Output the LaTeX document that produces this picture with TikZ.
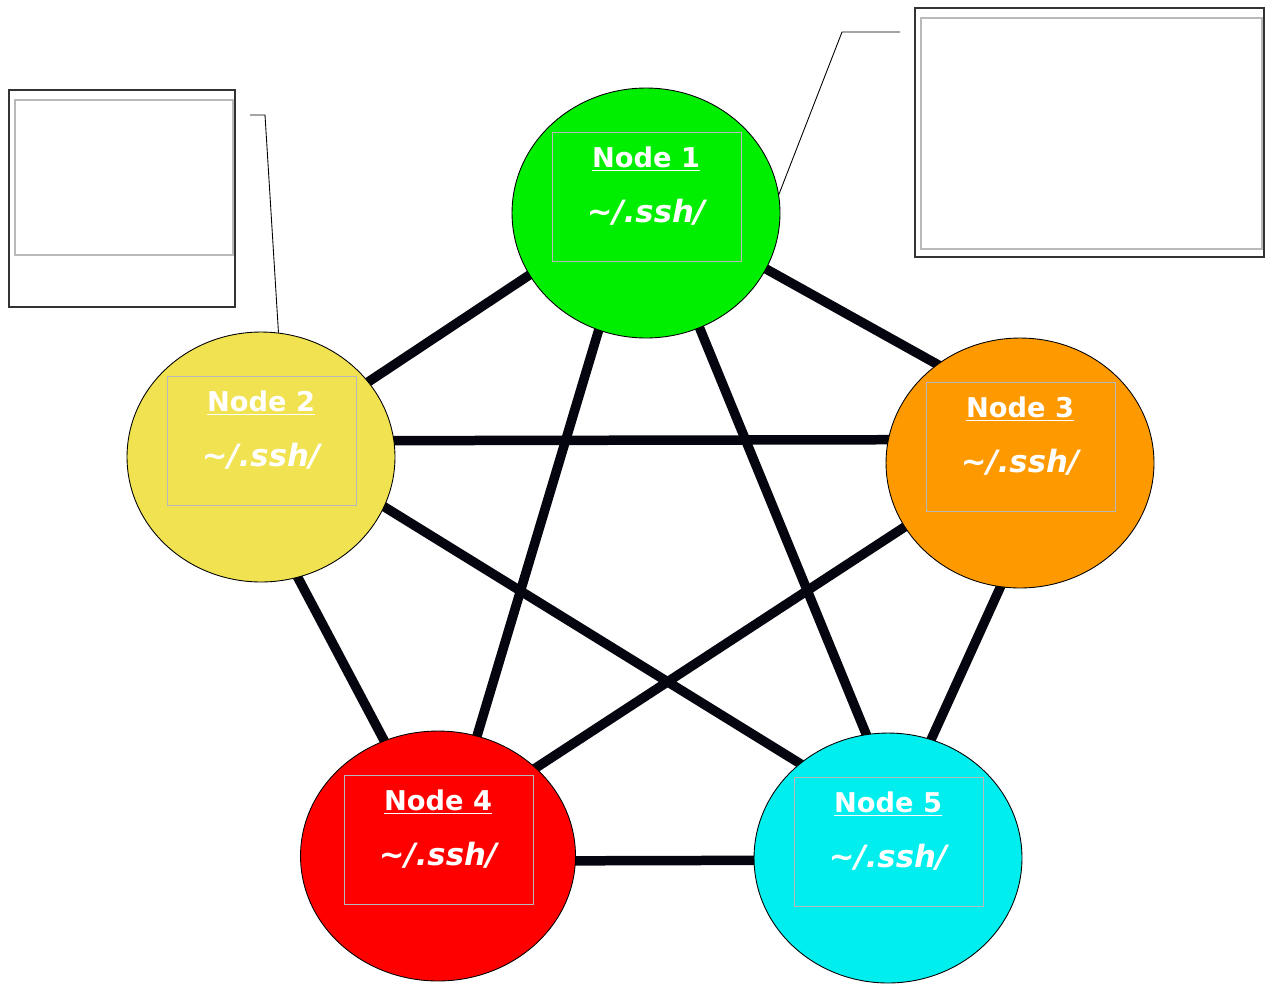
\documentclass[tikz,border=0pt]{standalone}
\usepackage{fontspec}
\setsansfont{DejaVu Sans}
\usetikzlibrary{shapes.geometric, backgrounds, calc}
\definecolor{ngreen}{RGB}{0,238,0}
\definecolor{nyellow}{RGB}{240,226,80}
\definecolor{norange}{RGB}{255,153,0}
\definecolor{nred}{RGB}{255,0,0}
\definecolor{ncyan}{RGB}{0,238,238}
\definecolor{boxgray}{RGB}{185,185,185}
\definecolor{linkblk}{RGB}{5,5,15}

\begin{document}
\begin{tikzpicture}[x=0.02cm,y=-0.02cm,
  host/.style={ellipse,draw=black,line width=0.5pt,inner sep=0pt,
               minimum width=5.36cm,minimum height=5cm},
  keybox/.style={draw=boxgray,line width=1pt,inner sep=0pt,
                 minimum width=3.78cm,minimum height=2.58cm},
  keytxt/.style={text=white,align=center,inner sep=0pt,
                 font=\sffamily\bfseries\fontsize{15.5}{18}\selectfont},
  link/.style={line width=0.19cm,color=linkblk,
               shorten <=-8pt,shorten >=-8pt},
  note/.style={draw=black!80,line width=1.1pt,inner sep=0pt},
  notein/.style={draw=boxgray,line width=1pt,inner sep=0pt},
  callout/.style={draw=black,line width=0.5pt}
]
  \useasboundingbox (0,0) rectangle (1266,984);

  % hosts
  \node[host,fill=ngreen] (n1) at (646,213) {};
  \node[host,fill=nyellow] (n2) at (261,457) {};
  \node[host,fill=norange] (n3) at (1020,463) {};
  \node[host,fill=nred,minimum width=5.5cm] (n4) at (438,856) {};
  \node[host,fill=ncyan] (n5) at (888,858) {};

  \foreach \i in {1,...,5} {
    \node[keybox] (b\i) at ($(n\i)+(1,-16)$) {};
    \node[keytxt] (t\i) at ($(n\i)+(0,-27)$)
      {\underline{Node \i}\\[13pt]
       {\itshape\fontsize{17.5}{20}\selectfont\textasciitilde/.ssh/}};
  }

  % full mesh
  \begin{scope}[on background layer]
    \foreach \a/\p/\b/\q in {n1/208/n2/35,n1/335/n3/130,n1/248/n4/72,
        n1/295/n5/100,n2/7/n3/170,n2/287/n4/115,n2/338/n5/133,
        n3/209/n4/42,n3/261/n5/70,n4/358/n5/181}
      \draw[link] (\a.\p)--(\b.\q);
  \end{scope}

  % callouts
  \node[note,minimum width=4.52cm,minimum height=4.34cm] (cb2) at (122,198.5) {};
  \node[notein,minimum width=4.36cm,minimum height=3.1cm] (cb2in) at (124,177.5) {};
  \node[note,minimum width=6.98cm,minimum height=4.98cm] (cb1) at (1089.5,132.5) {};
  \node[notein,minimum width=6.82cm,minimum height=4.62cm] (cb1in) at (1091.5,133.5) {};
  \coordinate (c2) at (250,115);
  \coordinate (c1) at (900,32);
  \draw[callout] (c2) -- ++(15,0) -- (n2.82);
  \draw[callout] (c1) -- ++(-58,0) -- (n1.8);
\end{tikzpicture}
\end{document}
